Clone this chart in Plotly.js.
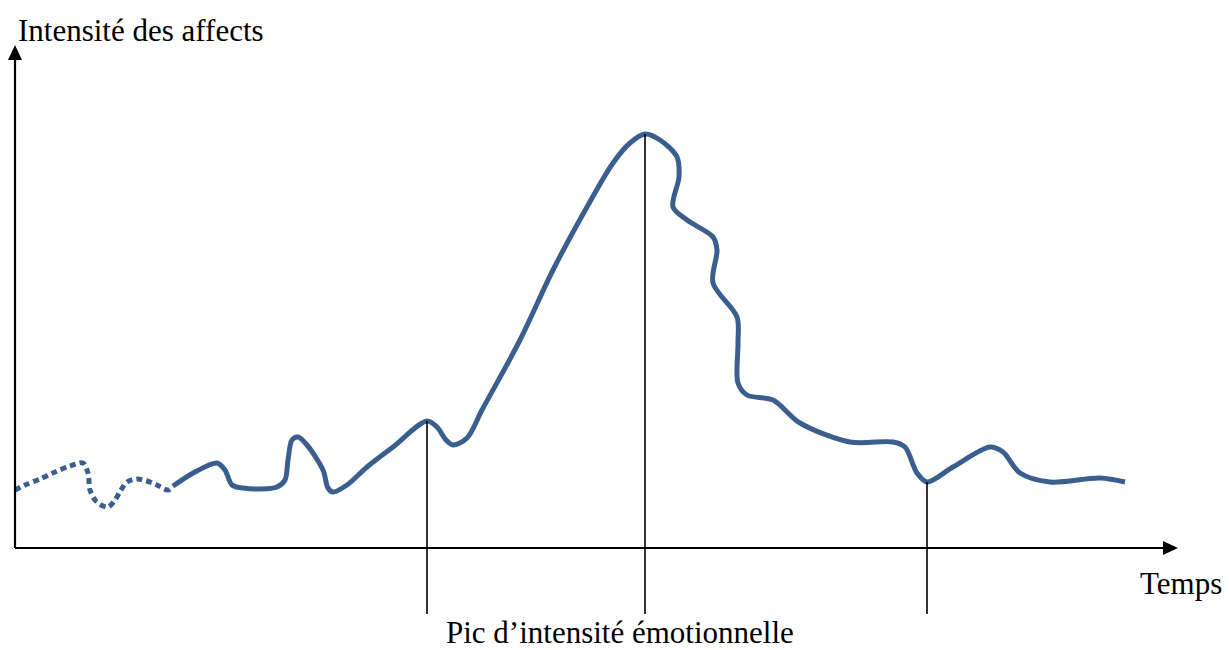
<!DOCTYPE html>
<html>
<head>
<meta charset="utf-8">
<script src="https://cdn.plot.ly/plotly-3.0.1.min.js"></script>
<style>html,body{margin:0;padding:0;background:#fff;}#chart{width:1229px;height:650px;}</style>
</head>
<body>
<div id="chart"></div>
<script>
// Dotted (hypothetical) lead-in of the curve
const timeDotted = [0,10,25,40,55,68,73,75,80,86,93,100,106,112,122,132,142,153,158];
const intensityDotted = [58,63,69,76,82,85,75,58,48,43,41,48,58,66,69,67,63,58,62];

// Solid curve: intensity of affects over time
const timeSolid = [158,180,202,210,217,228,245,262,270,273,277,283,292,308,313,318,332,352,378,412,422,431,438,452,467,505,538,572,598,615,630,645,662,664,658,672,698,702,698,722,723,723,732,758,785,835,878,890,902,912,938,975,988,1005,1035,1085,1110];
const intensitySolid = [62,76,85,78,63,60,59,61,68,88,108,111,103,78,60,56,63,81,101,127,121,108,103,110,138,208,278,341,385,405,414,408,391,371,341,328,311,298,265,231,205,165,153,148,125,106,106,101,75,66,81,101,96,75,66,70,66];

// Times marked with vertical lines
const markerTimes = [412, 630, 912];
const markerBottom = -66;

// Labels
const yLabel = "Intensité des affects";
const xLabel = "Temps";
const peakLabel = "Pic d’intensité émotionnelle";

const curveColor = "#3A5F8E";

const traces = [
  {x: timeDotted, y: intensityDotted, mode: "lines", line: {color: curveColor, width: 5, dash: "6px,4px", shape: "spline", smoothing: 0.9}, hoverinfo: "skip"},
  {x: timeSolid, y: intensitySolid, mode: "lines", line: {color: curveColor, width: 5, shape: "spline", smoothing: 0.9}, hoverinfo: "skip"}
];
markerTimes.forEach(t => {
  const i = timeSolid.indexOf(t);
  traces.push({x: [t, t], y: [intensitySolid[i], markerBottom], mode: "lines", line: {color: "#000", width: 1.6}, hoverinfo: "skip"});
});

const font = {family: "Liberation Serif, Times New Roman, serif", color: "#000", size: 31};

const layout = {
  width: 1229, height: 650,
  margin: {l: 0, r: 0, t: 0, b: 0},
  paper_bgcolor: "#fff", plot_bgcolor: "#fff",
  showlegend: false,
  xaxis: {range: [-15, 1214], visible: false, fixedrange: true},
  yaxis: {range: [-102, 548], visible: false, fixedrange: true},
  shapes: [
    {type: "line", xref: "x", yref: "y", x0: 0, y0: 0, x1: 0, y1: 490, line: {color: "#000", width: 2.2}},
    {type: "line", xref: "x", yref: "y", x0: 0, y0: 0, x1: 1150, y1: 0, line: {color: "#000", width: 2.2}},
    {type: "path", xref: "x", yref: "y", path: "M -7 488 L 7 488 L 0 503 Z", fillcolor: "#000", line: {width: 0}},
    {type: "path", xref: "x", yref: "y", path: "M 1148 7 L 1148 -7 L 1163 0 Z", fillcolor: "#000", line: {width: 0}}
  ],
  annotations: [
    {x: 1, y: 518, xref: "x", yref: "y", text: yLabel, showarrow: false, xanchor: "left", yanchor: "middle", font: font},
    {x: 1166, y: -35, xref: "x", yref: "y", text: xLabel, showarrow: false, xanchor: "center", yanchor: "middle", font: font},
    {x: 605, y: -84, xref: "x", yref: "y", text: peakLabel, showarrow: false, xanchor: "center", yanchor: "middle", font: font}
  ]
};

Plotly.newPlot("chart", traces, layout, {staticPlot: true, displayModeBar: false});
</script>
</body>
</html>
